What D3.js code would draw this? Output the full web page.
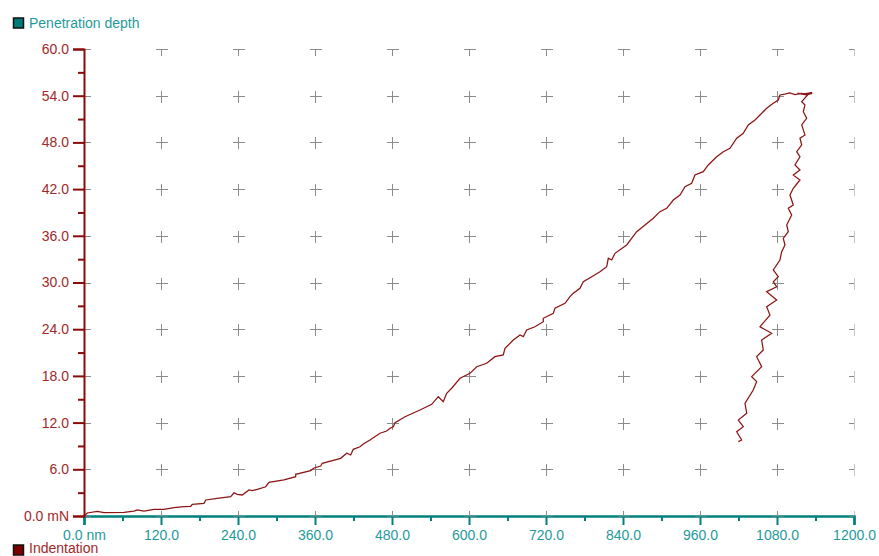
<!DOCTYPE html>
<html lang="en">
<head>
<meta charset="utf-8">
<title>Indentation curve</title>
<script src="https://d3js.org/d3.v7.min.js"></script>
<style>
  body { margin: 0; background: #fff; }
  text { font-family: "Liberation Sans", Arial, sans-serif; font-size: 14px; }
  .xAxis text { fill: #1f9a9a; }
  .yAxis text { fill: #a3282a; }
  .xAxis path, .xAxis line { stroke: #00807f; }
  .yAxis path, .yAxis line { stroke: #8b0a0a; }
  .cross { stroke: #8c8c8c; stroke-width: 1; shape-rendering: crispEdges; }
</style>
</head>
<body>
<div id="chart"></div>
<script>
// tick values
const xTicks = [0, 120, 240, 360, 480, 600, 720, 840, 960, 1080, 1200];
const xMinor = [60, 180, 300, 420, 540, 660, 780, 900, 1020, 1140];
const yTicks = [0, 6, 12, 18, 24, 30, 36, 42, 48, 54, 60];
const yMinor = [3, 9, 15, 21, 27, 33, 39, 45, 51, 57];

// loading branch (nm, mN)
const loadDepth = [0, 5.1, 20.7, 31.2, 62.3, 77.9, 83.1, 93.5, 109.1, 124.7, 140.3, 155.8, 166.3, 168.8, 187.0, 189.7,
  207.7, 228.6, 233.8, 238.9, 246.7, 257.1, 262.3, 270.1, 283.2, 288.3, 311.7, 329.9, 329.9, 353.3, 358.4, 368.9,
  371.4, 400.0, 409.4, 415.6, 419.7, 430.1, 435.3, 445.7, 461.3, 471.7, 476.9, 482.0, 484.7, 500.3, 523.6, 541.9,
  552.1, 559.9, 565.2, 573.0, 586.0, 601.6, 612.0, 627.6, 640.5, 653.4, 656.1, 669.0, 679.5, 684.6, 689.9, 702.8,
  715.8, 715.8, 731.4, 734.0, 749.6, 757.4, 762.5, 773.0, 778.1, 791.2, 804.1, 814.6, 817.1, 822.4, 827.5, 845.7,
  861.3, 874.3, 887.2, 897.6, 908.1, 918.4, 928.9, 936.6, 947.0, 952.2, 965.1, 972.9, 986.0, 996.3, 1006.7, 1017.2,
  1027.4, 1035.2, 1045.7, 1053.5, 1063.9, 1074.2, 1082.0, 1084.6];
const loadForce = [0, 0.39, 0.60, 0.42, 0.48, 0.64, 0.77, 0.64, 0.86, 0.86, 1.07, 1.19, 1.25, 1.50, 1.63, 2.06,
  2.27, 2.48, 2.99, 2.79, 2.70, 3.34, 3.25, 3.43, 3.76, 4.33, 4.63, 5.05, 5.36, 5.82, 6.17, 6.42,
  6.77, 7.41, 8.06, 7.84, 8.57, 8.90, 9.25, 9.76, 10.63, 10.92, 11.27, 11.47, 11.99, 12.76, 13.62, 14.35,
  15.33, 14.69, 15.76, 16.41, 17.69, 18.33, 19.18, 19.62, 20.47, 20.69, 21.55, 22.61, 23.26, 23.04, 23.90, 24.32,
  24.96, 25.40, 26.04, 26.69, 27.33, 28.18, 28.61, 29.26, 30.10, 30.75, 31.39, 32.03, 33.11, 32.89, 33.75, 34.82,
  36.53, 37.39, 38.25, 39.10, 39.53, 40.60, 41.24, 42.31, 42.75, 43.81, 44.24, 45.10, 46.16, 46.81, 47.24, 48.53,
  49.17, 50.24, 50.88, 51.52, 52.38, 53.02, 53.45, 54.09];

// hold at peak load
const holdDepth = [1092, 1100, 1108, 1118, 1128, 1134, 1122, 1112, 1126, 1135, 1120, 1130];
const holdForce = [54.20, 54.35, 54.15, 54.30, 54.20, 54.40, 54.25, 54.30, 54.10, 54.30, 54.20, 54.25];

// unloading branch
const unloadDepth = [1128.7, 1118.5, 1123.6, 1121.0, 1126.3, 1118.5, 1123.6, 1115.8, 1118.5, 1110.7, 1115.8, 1108.0,
  1115.8, 1105.4, 1115.8, 1105.4, 1100.2, 1105.4, 1097.6, 1102.9, 1095.1, 1097.6, 1089.8, 1092.4, 1087.3, 1084.6,
  1074.2, 1082.0, 1074.2, 1079.5, 1063.9, 1079.5, 1063.9, 1069.0, 1053.5, 1071.7, 1056.1, 1058.6, 1048.3, 1056.1,
  1040.5, 1048.3, 1043.0, 1030.1, 1032.8, 1019.7, 1027.5, 1017.2, 1024.9, 1019.7];
const unloadForce = [54.18, 53.23, 52.80, 51.94, 51.10, 50.25, 48.96, 48.53, 47.67, 46.81, 46.16, 45.10,
  44.45, 43.81, 43.17, 42.10, 41.24, 39.96, 39.53, 38.67, 37.39, 36.53, 35.68, 34.82, 33.96, 32.89,
  31.61, 30.75, 30.10, 29.46, 28.82, 27.75, 26.89, 25.82, 24.32, 23.47, 22.61, 21.33, 20.47, 19.18,
  17.90, 17.26, 16.19, 14.48, 13.20, 12.33, 11.47, 10.83, 9.76, 9.55];

const W = 879, H = 556;
const svg = d3.select('#chart').append('svg').attr('width', W).attr('height', H);

const x = d3.scaleLinear().domain([0, 1200]).range([84, 854]);
const y = d3.scaleLinear().domain([0, 60]).range([516, 49]);

svg.append('defs').append('clipPath').attr('id', 'plot')
  .append('rect').attr('x', 84).attr('y', 49).attr('width', 770.5).attr('height', 467.5);

// x axis (teal)
const xa = svg.append('g').attr('class', 'xAxis').attr('transform', `translate(0,${y(0)})`);
xa.call(d3.axisBottom(x).tickValues(xTicks).tickSizeOuter(0).tickSize(9).tickPadding(5)
  .tickFormat(d => d === 0 ? '0.0 nm' : d.toFixed(1)));
xa.append('g').call(d3.axisBottom(x).tickValues(xMinor).tickSizeOuter(0).tickSize(5).tickFormat(''))
  .select('.domain').remove();
xa.selectAll('.domain').attr('stroke-width', 2.5);
xa.selectAll('line').attr('stroke-width', 2);
xa.selectAll('text').attr('fill', null);

// grid crosses
const cells = [];
xTicks.forEach(a => yTicks.forEach(b => cells.push([a, b])));
const cg = svg.append('g').attr('clip-path', 'url(#plot)');
cg.selectAll('path.cross').data(cells).enter().append('path')
  .attr('class', 'cross')
  .attr('d', d => {
    const cx = Math.round(x(d[0])) + 0.5, cy = Math.round(y(d[1])) + 0.5;
    return `M${cx - 6},${cy}H${cx + 6}M${cx},${cy - 6}V${cy + 6}`;
  });

// y axis (dark red)
const ya = svg.append('g').attr('class', 'yAxis').attr('transform', `translate(${x(0)},0)`);
ya.call(d3.axisLeft(y).tickValues(yTicks).tickSizeOuter(0).tickSize(11).tickPadding(4)
  .tickFormat(d => d === 0 ? '0.0 mN' : d.toFixed(1)));
ya.append('g').call(d3.axisLeft(y).tickValues(yMinor).tickSizeOuter(0).tickSize(6).tickFormat(''))
  .select('.domain').remove();
ya.selectAll('.domain').attr('stroke-width', 2);
ya.selectAll('line').attr('stroke-width', 2);
ya.selectAll('text').attr('fill', null);

// curve
const pts = [];
loadDepth.forEach((d, i) => pts.push([d, loadForce[i]]));
holdDepth.forEach((d, i) => pts.push([d, holdForce[i]]));
unloadDepth.forEach((d, i) => pts.push([d, unloadForce[i]]));

svg.append('path')
  .datum(pts)
  .attr('fill', 'none')
  .attr('stroke', '#8b1414')
  .attr('stroke-width', 1.25)
  .attr('stroke-linejoin', 'miter')
  .attr('d', d3.line().x(d => x(d[0])).y(d => y(d[1])));

// legends
function legend(yPos, textY, fill, label, color) {
  svg.append('rect').attr('x', 13.5).attr('y', yPos - 5.5).attr('width', 10).attr('height', 10)
    .attr('fill', fill).attr('stroke', '#111').attr('stroke-width', 1.5);
  svg.append('text').attr('x', 29).attr('y', textY).attr('dy', '0.35em')
    .attr('fill', color).text(label);
}
legend(23.5, 23.5, '#007a78', 'Penetration depth', '#1f9a9a');
legend(550.5, 548.5, '#7a0000', 'Indentation', '#a3282a');
</script>
</body>
</html>
